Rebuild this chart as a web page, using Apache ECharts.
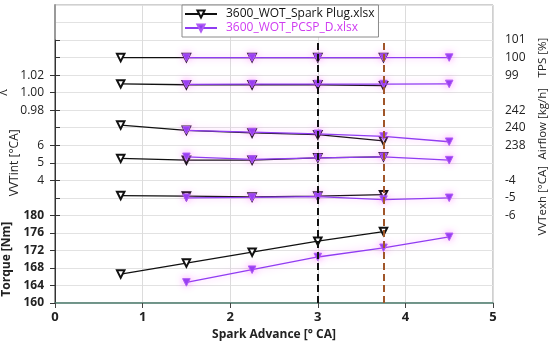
<!DOCTYPE html>
<html><head><meta charset="utf-8">
<script src="https://cdn.jsdelivr.net/npm/echarts@6/dist/echarts.min.js"></script>
<style>html,body{margin:0;padding:0;background:#fff}#c{width:550px;height:344px}</style>
</head><body><div id="c"></div>
<script>
// ---- data ----
const seriesNames = ['3600_WOT_Spark Plug.xlsx', '3600_WOT_PCSP_D.xlsx'];
const xBlack  = [0.75, 1.5, 2.25, 3.0, 3.75];
const xPurple = [1.5, 2.25, 3.0, 3.75, 4.5];
const tpsBlack     = [100, 100, 100, 100, 100];
const tpsPurple    = [100, 100, 100, 100, 100];
const lambdaBlack  = [1.010, 1.009, 1.009, 1.009, 1.008];
const lambdaPurple = [1.0095, 1.0098, 1.0098, 1.0098, 1.010];
const airBlack     = [240.3, 239.7, 239.4, 239.2, 238.5];
const airPurple    = [239.7, 239.5, 239.3, 239.0, 238.4];
const vvtiBlack    = [5.25, 5.15, 5.15, 5.28, 5.34];
const vvtiPurple   = [5.34, 5.19, 5.28, 5.34, 5.15];
const vvteBlack    = [-4.87, -4.90, -4.95, -4.90, -4.82];
const vvtePurple   = [-5.00, -4.98, -4.93, -5.10, -5.00];
const torqueBlack  = [166.6, 169.1, 171.6, 174.1, 176.3];
const torquePurple = [164.7, 167.6, 170.5, 172.6, 175.1];
const refLines = [3.0, 3.75];
const xMin = 0, xMax = 5, xInterval = 1;

// ---- layout ----
const W = 550, H = 344;
const GL = 55, GR = 57, TOP = 5, BOT = 303, ROWS = 17;
const rowY = r => TOP + r * (BOT - TOP) / ROWS;
const FONT = 'Open Sans';
const BLACK = '#111111', PURPLE = '#8f3cf2', BROWN = '#a0562a';

const panels = [
  {name: 'TPS [%]',         side: 'right', r0: 2,  r1: 4,  min: 99,   max: 101,  interval: 1,    dec: 0, bold: false, pad: [0,0,0,0], b: tpsBlack,    p: tpsPurple},
  {name: 'λ',               side: 'left',  r0: 4,  r1: 6,  min: 0.98, max: 1.02, interval: 0.02, dec: 2, bold: false, pad: [0,0,0,0], b: lambdaBlack, p: lambdaPurple},
  {name: 'Airflow [kg/h]',  side: 'right', r0: 6,  r1: 8,  min: 238,  max: 242,  interval: 2,    dec: 0, bold: false, pad: [0,0,0,8], b: airBlack,    p: airPurple},
  {name: 'VVTint [°CA]',    side: 'left',  r0: 8,  r1: 10, min: 4,    max: 6,    interval: 1,    dec: 0, bold: false, pad: [0,0,0,0], b: vvtiBlack,   p: vvtiPurple},
  {name: 'VVTexh [°CA]',    side: 'right', r0: 10, r1: 12, min: -6,   max: -4,   interval: 1,    dec: 0, bold: false, pad: [0,6,0,0], b: vvteBlack,   p: vvtePurple},
  {name: 'Torque [Nm]',     side: 'left',  r0: 12, r1: 17, min: 160,  max: 180,  interval: 4,    dec: 0, bold: true,  pad: [0,0,0,0], b: torqueBlack, p: torquePurple}
];

const grid = [{left: GL, right: GR, top: TOP, bottom: H - BOT, show: true, borderColor: '#a0a0a0', borderWidth: 1,
  backgroundColor: 'transparent', containLabel: false, outerBoundsMode: 'none'}];
const xAxis = [{
  gridIndex: 0, type: 'value', min: xMin, max: xMax, interval: xInterval,
  name: 'Spark Advance [° CA]', nameLocation: 'middle', nameGap: 26,
  nameTextStyle: {fontFamily: FONT, fontSize: 12, fontWeight: 'bold', color: '#222'},
  axisLine: {show: true, lineStyle: {color: '#4f7f70', width: 1.5}},
  axisTick: {show: true, length: 5, lineStyle: {color: '#444'}},
  axisLabel: {fontFamily: FONT, fontSize: 13, fontWeight: 'bold', color: '#222', margin: 8},
  splitLine: {show: true, lineStyle: {color: '#dcdcdc', width: 1}}
}];
const yAxis = [{
  gridIndex: 0, type: 'value', min: 0, max: ROWS, interval: 1,
  axisLine: {show: true, lineStyle: {color: '#9a9a9a', width: 2}},
  axisTick: {show: false}, axisLabel: {show: false},
  splitLine: {show: true, lineStyle: {color: '#e2e2e2', width: 1}}
}];
const series = [];

panels.forEach((pn, i) => {
  const gi = i + 1;
  const yTop = rowY(pn.r0), yBot = rowY(pn.r1);
  grid.push({left: GL, right: GR, top: yTop, bottom: H - yBot, show: false, containLabel: false, outerBoundsMode: 'none'});
  xAxis.push({gridIndex: gi, type: 'value', min: xMin, max: xMax, show: false});
  const left = pn.side === 'left';
  yAxis.push({
    gridIndex: gi, type: 'value', position: pn.side, offset: left ? 3 : 4,
    min: pn.min, max: pn.max, interval: pn.interval,
    name: pn.name, nameLocation: 'middle', nameRotate: 90, nameGap: left ? 31 : 40,
    nameTextStyle: {fontFamily: FONT, fontSize: left ? 12 : 11.5, fontWeight: pn.bold ? 'bold' : 'normal', color: '#222', padding: pn.pad},
    axisLine: {show: true, lineStyle: {color: '#333', width: 1}},
    axisTick: {show: true, length: 5, lineStyle: {color: '#333'}},
    axisLabel: {fontFamily: FONT, fontSize: 12, fontWeight: pn.bold ? 'bold' : 'normal', color: '#222', margin: 8,
      formatter: v => Number(v).toFixed(pn.dec)},
    splitLine: {show: false}
  });
  series.push({
    name: seriesNames[0], type: 'line', xAxisIndex: gi, yAxisIndex: gi,
    data: xBlack.map((x, k) => [x, pn.b[k]]),
    symbol: 'emptyTriangle', symbolRotate: 180, symbolSize: 7.5, showAllSymbol: true,
    lineStyle: {color: BLACK, width: 1.3},
    itemStyle: {color: BLACK, borderWidth: 1.3},
    z: 3, animation: false
  });
  series.push({
    name: seriesNames[1], type: 'line', xAxisIndex: gi, yAxisIndex: gi,
    data: xPurple.map((x, k) => [x, pn.p[k]]),
    symbol: 'triangle', symbolRotate: 180, symbolSize: 7.5,
    lineStyle: {color: PURPLE, width: 1.3, shadowColor: 'rgba(255,90,255,0.55)', shadowBlur: 7},
    itemStyle: {color: PURPLE, borderColor: '#b05cf5', borderWidth: 1, shadowColor: 'rgba(255,90,255,0.55)', shadowBlur: 7},
    z: 4, animation: false
  });
});

// reference dashed lines on main grid (value ROWS-2 corresponds to row 2 from top)
series.push({
  type: 'line', xAxisIndex: 0, yAxisIndex: 0, data: [], silent: true, animation: false,
  markLine: {
    silent: true, symbol: 'none', label: {show: false}, animation: false,
    data: refLines.map((x, k) => [
      {coord: [x, 0], lineStyle: {color: k === 0 ? '#111' : BROWN, type: [7, 4], width: 2}},
      {coord: [x, ROWS - 2]}
    ])
  }
});

const option = {
  backgroundColor: '#fff',
  animation: false,
  grid, xAxis, yAxis, series,
  legend: {
    show: true, orient: 'vertical', left: 182, top: 5,
    backgroundColor: '#fff', borderColor: '#8a8a8a', borderWidth: 1,
    padding: [3, 4, 3, 2], itemGap: 2, itemWidth: 32, itemHeight: 9,
    textStyle: {fontFamily: FONT, fontSize: 12, padding: [0, 0, 0, 4]},
    data: [
      {name: seriesNames[0], textStyle: {color: '#111'}},
      {name: seriesNames[1], textStyle: {color: '#cf3cf0'}}
    ]
  }
};
const chart = echarts.init(document.getElementById('c'), null, {renderer: 'canvas'});
chart.setOption(option);
</script></body></html>
